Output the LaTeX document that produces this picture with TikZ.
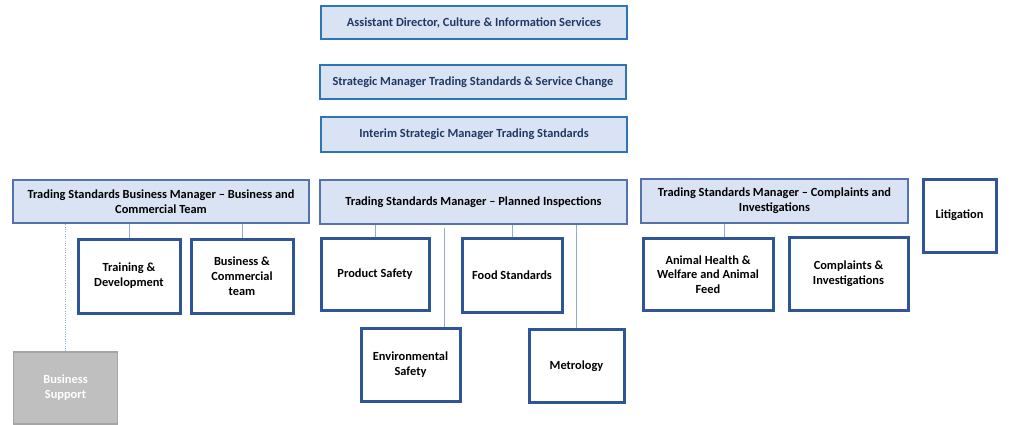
\documentclass[tikz,border=0pt]{standalone}
\usepackage{fontspec}
\setmainfont{Carlito}
\usepackage{tikz}
\definecolor{headfill}{RGB}{218, 227, 243}
\definecolor{headdraw}{RGB}{46, 117, 182}
\definecolor{headtext}{RGB}{32, 56, 100}
\definecolor{mgrdraw}{RGB}{84, 115, 170}
\definecolor{unitdraw}{RGB}{47, 85, 151}
\definecolor{linkcol}{RGB}{143, 170, 220}
\definecolor{suppfill}{RGB}{191, 191, 191}
\definecolor{suppdraw}{RGB}{165, 165, 165}
\usetikzlibrary{positioning}

\begin{document}
\begin{tikzpicture}
				[x=0.75pt, y=-0.75pt, every node/.style={inner sep=0pt, align=center, font=\fontsize{9.3}{11.1}\selectfont\bfseries},
				headbox/.style={rectangle, fill=headfill, draw=headdraw, line width=1.5pt, text=headtext},
				mgrbox/.style={rectangle, fill=headfill, draw=mgrdraw, line width=1.2pt, text=black},
				unitbox/.style={rectangle, fill=white, draw=unitdraw, line width=2.25pt, text=black},
				suppbox/.style={rectangle, fill=suppfill, draw=suppdraw, line width=1pt, text=white},
				link/.style={line width=0.75pt, color=linkcol}]
				\useasboundingbox (0, 0) rectangle (1018, 425);
				% senior posts
				\node (ad) [headbox, minimum width=229.5pt, minimum height=24.75pt] at (474, 22.5) {Assistant Director, Culture \& Information Services};
				\node (smt) [headbox, minimum width=229.5pt, minimum height=25.5pt] at (473, 82) {Strategic Manager Trading Standards \& Service Change};
				\node (ism) [headbox, minimum width=229.5pt, minimum height=26.25pt] at (474, 134.5) {Interim Strategic Manager Trading Standards};
				% managers
				\node (lbm) [mgrbox, minimum width=222pt, minimum height=32.25pt] at (161, 201.5) {Trading Standards Business Manager – Business and\\Commercial Team};
				\node (pim) [mgrbox, minimum width=230.25pt, minimum height=33pt] at (473.5, 202) {Trading Standards Manager – Planned Inspections};
				\node (tsci) [mgrbox, minimum width=200.25pt, minimum height=33pt] at (774.5, 201) {Trading Standards Manager – Complaints and\\Investigations};
				\node (lit) [unitbox, minimum width=54.75pt, minimum height=54.75pt] at (959.5, 215.5) {Litigation};
				% teams
				\node (tdev) [unitbox, minimum width=76.5pt, minimum height=55.5pt] at (129, 276) {Training \&\\Development};
				\node (bct) [unitbox, minimum width=76.5pt, minimum height=55.5pt] at (242, 276) {Business \&\\Commercial\\team};
				\node (bsup) [suppbox, minimum width=78pt, minimum height=54pt] at (65.5, 388) {Business\\Support};
				\node (ps) [unitbox, minimum width=81pt, minimum height=54pt] at (375, 274.5) {Product Safety};
				\node (fs) [unitbox, minimum width=75pt, minimum height=55.5pt] at (512, 275.5) {Food Standards};
				\node (env) [unitbox, minimum width=74.25pt, minimum height=54.75pt] at (410.5, 365) {Environmental\\Safety};
				\node (met) [unitbox, minimum width=71.25pt, minimum height=54.75pt] at (576.5, 366) {Metrology};
				\node (ahw) [unitbox, minimum width=97.5pt, minimum height=54pt] at (708, 274.5) {Animal Health \&\\Welfare and Animal\\Feed};
				\node (ci) [unitbox, minimum width=89.25pt, minimum height=54.75pt] at (848.5, 274) {Complaints \&\\Investigations};
				\coordinate (envtop) at (444, 228);
				\draw [link] (tdev.north) to (tdev.north |- lbm.south);
				\draw [link] (bct.north) to (bct.north |- lbm.south);
				\draw [link, densely dotted] (bsup.north) to (bsup.north |- lbm.south);
				\draw [link] (ps.north) to (ps.north |- pim.south);
				\draw [link] (fs.north) to (fs.north |- pim.south);
				\draw [link] (met.north) to (met.north |- pim.south);
				\draw [link] (envtop |- env.north) to (envtop);
				\draw [link] ([xshift=12pt]ahw.north) to ([xshift=12pt]ahw.north |- tsci.south);
		\end{tikzpicture}
\end{document}
